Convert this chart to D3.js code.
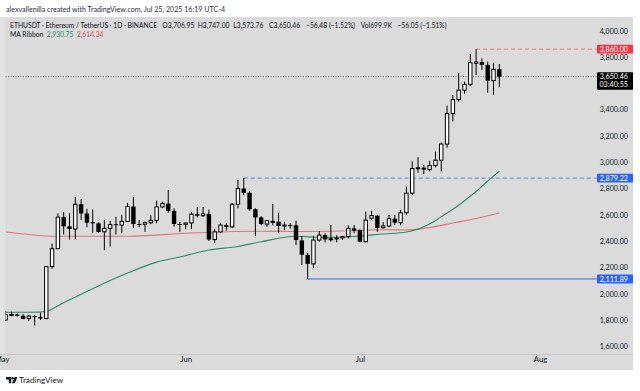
<!DOCTYPE html>
<html><head><meta charset="utf-8">
<script src="https://cdn.jsdelivr.net/npm/d3@7"></script>
<style>body{margin:0;background:#fff}svg{display:block}text{font-family:Lato,"Noto Sans",sans-serif}</style>
</head><body><svg id="c" width="640" height="391"></svg>
<script>
// ---------- data ----------
const dates = d3.utcDays(new Date(Date.UTC(2025,4,1)), new Date(Date.UTC(2025,6,26)));
const open  = [1800,1840,1842,1832,1812,1830,1822,1812,2206,2342,2582,2512,2492,2680,2610,2545,2535,2471,2497,2528,2522,2550,2663,2530,2528,2540,2558,2660,2685,2630,2530,
               2528,2538,2605,2593,2607,2412,2470,2522,2508,2680,2800,2768,2642,2580,2530,2548,2548,2515,2522,2520,2405,2296,2227,2408,2446,2413,2418,2424,2434,2497,
               2483,2395,2575,2594,2502,2515,2570,2540,2615,2765,2952,2958,2944,2975,3015,3138,3370,3476,3548,3592,3752,3762,3740,3620,3706.95];
const high  = [1866,1863,1850,1845,1836,1836,1855,2210,2380,2610,2620,2612,2735,2720,2645,2640,2545,2560,2555,2585,2600,2690,2735,2560,2548,2595,2708,2700,2788,2650,2545,
               2540,2620,2658,2660,2640,2490,2540,2535,2690,2865,2879.22,2780,2650,2590,2560,2682,2616,2548,2535,2555,2440,2310,2440,2477,2460,2522,2445,2440,2520,2522,
               2490,2624,2630,2600,2545,2598,2598,2636,2814,3005,3038,2979,3010,3080,3150,3430,3510,3676,3612,3823,3860,3790,3765,3757,3747];
const low   = [1792,1828,1826,1806,1795,1758,1800,1805,2190,2340,2450,2412,2415,2560,2505,2465,2465,2330,2360,2450,2460,2545,2500,2505,2470,2528,2535,2650,2615,2510,2470,
               2490,2490,2580,2585,2400,2385,2460,2480,2500,2650,2750,2630,2440,2520,2510,2520,2460,2483,2495,2370,2218,2111.89,2195,2395,2390,2395,2390,2410,2420,2460,
               2390,2390,2560,2470,2495,2505,2525,2520,2600,2750,2920,2910,2930,2960,2930,3110,3310,3460,3520,3580,3663,3701,3528,3511,3573.76];
const close = [1840,1842,1832,1808,1830,1822,1812,2206,2342,2582,2512,2492,2680,2610,2540,2535,2470,2497,2525,2522,2550,2663,2530,2528,2540,2558,2660,2685,2630,2530,2528,
               2538,2605,2593,2607,2412,2470,2522,2508,2680,2800,2768,2642,2580,2530,2555,2550,2515,2522,2520,2408,2296,2227,2408,2446,2413,2418,2424,2434,2497,2480,
               2395,2560,2594,2500,2515,2570,2540,2615,2765,2952,2958,2944,2975,3015,3138,3370,3476,3548,3592,3757,3762,3740,3620,3707,3650.46];

const maDates = ["2025-05-01","2025-05-07","2025-05-08","2025-05-11","2025-05-15","2025-05-19","2025-05-22","2025-05-27","2025-05-31","2025-06-05","2025-06-10","2025-06-14","2025-06-20","2025-06-25","2025-06-30","2025-07-05","2025-07-09","2025-07-13","2025-07-15","2025-07-17","2025-07-19","2025-07-21","2025-07-23","2025-07-25"];
const maFast  = [1859,1860,1866,1932,2016,2100,2157,2240,2279,2332,2359,2395,2437,2428,2435,2454,2469,2530,2586,2642,2707,2777,2857,2930.75];
const maSlowDates = ["2025-05-01","2025-05-05","2025-05-09","2025-05-22","2025-06-01","2025-06-13","2025-06-20","2025-07-01","2025-07-05","2025-07-09","2025-07-13","2025-07-17","2025-07-21","2025-07-25"];
const maSlow  = [2469,2450,2437,2437,2460,2475,2473,2481,2486,2484,2503,2538,2572,2614.34];

// 3,600.00 sits under the last-price badge in the picture, so it is not listed
const priceTicks = [1600,1800,2000,2200,2400,2600,2800,3000,3200,3400,3800,4000];
const monthTicks = ["2025-05-01","2025-06-01","2025-07-01","2025-08-01"];
const monthLabels = ["May","Jun","Jul","Aug"];

const levelHigh = 3860.00, levelMid = 2879.22, levelLow = 2111.89, lastPrice = 3650.46;
const countdown = "03:40:55";
const headerText = "alexvallenilla created with TradingView.com, Jul 25, 2025 16:19 UTC-4";
const symbolText = "ETHUSDT · Ethereum / TetherUS · 1D · BINANCE";
const ohlcItems = ["O3,706.95","H3,747.00","L3,573.76","C3,650.46","−56.48 (−1.52%)","Vol699.9K","−56.05 (−1.51%)"];
const maTitle = "MA Ribbon";
const maValues = ["2,930.75","2,614.34"];

// ---------- layout ----------
const svg = d3.select("#c");
const ink = "#131722", bg = "#dbdbdb";
const plotL = 5.5, plotR = 597, plotT = 17, plotB = 354, panelR = 633;

svg.append("rect").attr("x",0).attr("y",plotT).attr("width",panelR).attr("height",370-plotT).attr("fill",bg);
svg.append("rect").attr("x",0).attr("y",plotT).attr("width",plotL).attr("height",plotB-plotT).attr("fill","#e2e2e2");
svg.append("line").attr("x1",0).attr("x2",panelR).attr("y1",plotB+0.5).attr("y2",plotB+0.5).attr("stroke","#c6c6c6");

const x = d3.scaleUtc().domain([new Date(Date.UTC(2025,4,1)), new Date(Date.UTC(2025,7,1))]).range([5.6,540]);
const y = d3.scaleLinear().domain([1600,4000]).range([346.3,30.7]);

svg.append("defs").append("clipPath").attr("id","clip").append("rect")
  .attr("x",plotL).attr("y",plotT).attr("width",plotR-plotL).attr("height",plotB-plotT);
const plot = svg.append("g").attr("clip-path","url(#clip)");

// MA lines
const line = d3.line().x(d=>x(d[0])).y(d=>y(d[1])).curve(d3.curveMonotoneX);
plot.append("path").datum(maSlowDates.map((d,i)=>[new Date(d+"T00:00:00Z"),maSlow[i]]))
  .attr("d",line).attr("fill","none").attr("stroke","#e2737d").attr("stroke-width",1.1);
plot.append("path").datum(maDates.map((d,i)=>[new Date(d+"T00:00:00Z"),maFast[i]]))
  .attr("d",line).attr("fill","none").attr("stroke","#2f8a68").attr("stroke-width",1.1);

// level lines
plot.append("line").attr("x1",x(dates[high.indexOf(levelHigh)])).attr("x2",plotR).attr("y1",y(levelHigh)).attr("y2",y(levelHigh))
  .attr("stroke","#ef7a84").attr("stroke-dasharray","4,3");
plot.append("line").attr("x1",x(dates[high.indexOf(levelMid)])).attr("x2",plotR).attr("y1",y(levelMid)).attr("y2",y(levelMid))
  .attr("stroke","#5f80e0").attr("stroke-dasharray","4,3");
plot.append("line").attr("x1",x(dates[low.indexOf(levelLow)])).attr("x2",plotR).attr("y1",y(levelLow)).attr("y2",y(levelLow))
  .attr("stroke","#3b6ae0").attr("stroke-width",1);
plot.append("line").attr("x1",plotL).attr("x2",plotR).attr("y1",y(lastPrice)).attr("y2",y(lastPrice))
  .attr("stroke","#555").attr("stroke-dasharray","1,1.5").attr("stroke-width",0.8);

// candles
const candles = plot.append("g").selectAll("g").data(dates).join("g");
candles.append("line")
  .attr("x1",(d)=>x(d)).attr("x2",(d)=>x(d))
  .attr("y1",(d,i)=>y(high[i])).attr("y2",(d,i)=>y(low[i]))
  .attr("stroke","#000").attr("stroke-width",1);
candles.append("rect")
  .attr("x",(d,i)=> close[i]>=open[i] ? x(d)-1.7 : x(d)-2.2)
  .attr("width",(d,i)=> close[i]>=open[i] ? 3.4 : 4.4)
  .attr("y",(d,i)=> y(Math.max(open[i],close[i])))
  .attr("height",(d,i)=> Math.max(1, Math.abs(y(open[i])-y(close[i]))))
  .attr("fill",(d,i)=> close[i]>=open[i] ? "#fff" : "#000")
  .attr("stroke",(d,i)=> close[i]>=open[i] ? "#000" : "none")
  .attr("stroke-width",1);

// price axis
const yAxis = d3.axisRight(y).tickValues(priceTicks).tickSize(0).tickPadding(0).tickFormat(d3.format(",.2f"));
const yg = svg.append("g").attr("transform",`translate(628,0)`).call(yAxis);
yg.select(".domain").remove();
yg.selectAll("text").attr("text-anchor","end").attr("x",0).attr("fill",ink).attr("font-size",7.2)
  .style("font-family","Lato, sans-serif");

// time axis
const xAxis = d3.axisBottom(x).tickValues(monthTicks.map(d=>new Date(d+"T00:00:00Z"))).tickSize(0).tickPadding(0)
  .tickFormat((d,i)=>monthLabels[i]);
const xg = svg.append("g").attr("transform",`translate(0,359)`).call(xAxis);
xg.select(".domain").remove();
xg.selectAll("text").attr("fill",ink).attr("font-size",7.8).attr("dy","0.35em").style("font-family","Lato, sans-serif")
  .attr("x",(d,i)=> i===0 ? -4 : 0);

// price badges
function badge(v, color, extra){
  const yy = y(v);
  const h = extra ? 17.6 : 8.8;
  svg.append("rect").attr("x",597).attr("y",yy-4.4).attr("width",36).attr("height",h).attr("fill",color).attr("rx",1);
  svg.append("text").attr("x",628).attr("y",yy).attr("dy","0.35em").attr("text-anchor","end")
    .attr("fill","#fff").attr("font-size",7.2).text(d3.format(",.2f")(v));
  if(extra) svg.append("text").attr("x",628).attr("y",yy+8.3).attr("dy","0.35em").attr("text-anchor","end")
    .attr("fill","#fff").attr("font-size",7.2).text(extra);
}
badge(levelHigh,"#f23645");
badge(levelMid,"#2962ff");
badge(levelLow,"#2962ff");
badge(lastPrice,"#000",countdown);

// fit a text's font size so it spans a measured width
function fitted(xx, yy, str, width, color, base){
  const t = svg.append("text").attr("x",xx).attr("y",yy).attr("fill",color).attr("font-size",base).text(str);
  const w = t.node().getComputedTextLength();
  const fs = base * width / w;
  t.attr("font-size", fs);
  return fs;
}

// header and legends
fitted(6, 11.5, headerText, 219, "#2a2e39", 7.3);
const lfs = fitted(10, 27.5, symbolText, 147, ink, 7.4);
const ohlcX = [162.3,197.7,233.3,269,306];
let cur = 0;
ohlcItems.forEach((t,i)=>{
  const xx = i < ohlcX.length ? ohlcX[i] : cur + 5.5;
  const tx = svg.append("text").attr("x",xx).attr("y",27.5).attr("fill",ink).attr("font-size",lfs).text(t);
  cur = xx + tx.node().getComputedTextLength();
});
let mx = 10;
[[maTitle, ink], [maValues[0], "#2f8a68"], [maValues[1], "#e0505e"]].forEach(([t,c])=>{
  const tx = svg.append("text").attr("x",mx).attr("y",37).attr("fill",c).attr("font-size",lfs).text(t);
  mx += tx.node().getComputedTextLength() + 3.5;
});

// TradingView logo
const logo = svg.append("g").attr("fill",ink);
logo.append("path").attr("d","M6 377h5.2v6.2h-2.4v-3.8H6z");
logo.append("circle").attr("cx",12.6).attr("cy",378.3).attr("r",1.25);
logo.append("path").attr("d","M14.6 377h2.8l-2.6 6.2h-2.8z");
svg.append("text").attr("x",19).attr("y",383).attr("fill",ink).attr("font-size",8.2).text("TradingView");
</script></body></html>
